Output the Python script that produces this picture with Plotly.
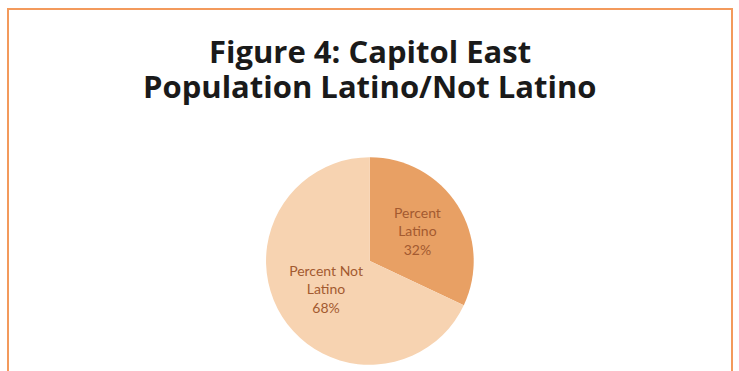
import plotly.graph_objects as go

# Share of Capitol East population
categories = ["Percent Latino", "Percent Not Latino"]
shares = [32, 68]
slice_colors = ["#E8A064", "#F7D3B1"]
title_lines = ["Figure 4: Capitol East", "Population Latino/Not Latino"]

fig = go.Figure(
    go.Pie(
        labels=categories,
        values=shares,
        sort=False,
        direction="clockwise",
        rotation=0,
        marker=dict(colors=slice_colors, line=dict(width=0)),
        texttemplate=["Percent<br>Latino<br>%{percent:.0%}", "Percent Not<br>Latino<br>%{percent:.0%}"],
        textposition="inside",
        insidetextorientation="horizontal",
        textfont=dict(family="Lato", size=14, color="#A35A30"),
        domain=dict(x=[0.36, 0.641], y=[0.016, 0.577]),
        showlegend=False,
        hoverinfo="label+percent",
    )
)

# Two title lines placed separately for tight line spacing
title_y = [1 - 51 / 371, 1 - 86 / 371]
annotations = [
    dict(
        text=f"<b>{line}</b>",
        x=0.5, y=y, xref="paper", yref="paper",
        xanchor="center", yanchor="middle",
        showarrow=False,
        font=dict(family="Open Sans", size=31, color="#1a1a1a"),
    )
    for line, y in zip(title_lines, title_y)
]

fig.update_layout(
    width=739,
    height=371,
    margin=dict(l=0, r=0, t=0, b=0),
    paper_bgcolor="white",
    plot_bgcolor="white",
    annotations=annotations,
    shapes=[
        dict(
            type="rect", xref="paper", yref="paper",
            x0=8 / 739, x1=732 / 739, y0=-0.05, y1=1 - 9 / 371,
            line=dict(color="#F39A5C", width=2),
            fillcolor="rgba(0,0,0,0)",
        )
    ],
)

fig.write_html("out.html")
